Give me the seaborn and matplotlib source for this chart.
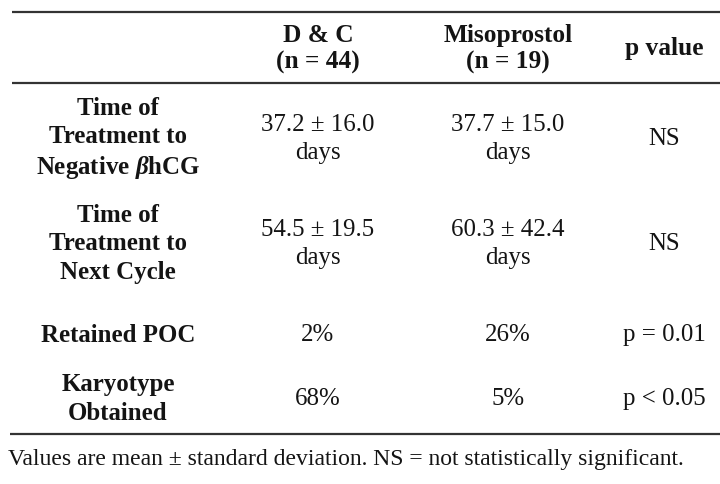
import matplotlib.pyplot as plt
import seaborn as sns

# Table content
col_heads = ["D & C\n(n = 44)", "Misoprostol\n(n = 19)", "p value"]
row_labels = [
    "Time of\nTreatment to\n$\\mathbf{Negative\\ }\\mathit{\\beta}\\mathbf{hCG}$",
    "Time of\nTreatment to\nNext Cycle",
    "Retained POC",
    "Karyotype\nObtained",
]
dc_vals = ["37.2 ± 16.0\ndays", "54.5 ± 19.5\ndays", "2%", "68%"]
miso_vals = ["37.7 ± 15.0\ndays", "60.3 ± 42.4\ndays", "26%", "5%"]
p_vals = ["NS", "NS", "p = 0.01", "p < 0.05"]
footnote = "Values are mean ± standard deviation. NS = not statistically significant."

sns.set_theme(style="white")
plt.rcParams['font.family'] = ['Liberation Serif', 'DejaVu Serif']
plt.rcParams['mathtext.fontset'] = 'custom'
plt.rcParams['mathtext.rm'] = 'Liberation Serif'
plt.rcParams['mathtext.bf'] = 'Liberation Serif:bold'
plt.rcParams['mathtext.it'] = 'Liberation Serif:italic:bold'

fig = plt.figure(figsize=(7.2, 4.84), dpi=100)
ax = fig.add_axes([0, 0, 1, 1])
ax.set_xlim(0, 720)
ax.set_ylim(484, 0)
ax.axis('off')

col_x = [118, 318, 508, 664]
head_y = 49
row_y = [139, 244, 335, 399]
fs = 17.9
txt = '#141414'

for x, h in zip(col_x[1:], col_heads):
    ax.text(x, head_y, h, ha='center', va='center', fontsize=fs + 0.4,
            fontweight='bold', color=txt, linespacing=1.25)

for i, y in enumerate(row_y):
    ax.text(col_x[0], y, row_labels[i], ha='center', va='center', fontsize=fs,
            fontweight='bold', color=txt, linespacing=1.28)
    ax.text(col_x[1], y, dc_vals[i], ha='center', va='center', fontsize=fs,
            color=txt, linespacing=1.3)
    ax.text(col_x[2], y, miso_vals[i], ha='center', va='center', fontsize=fs,
            color=txt, linespacing=1.3)
    ax.text(col_x[3], y, p_vals[i], ha='center', va='center', fontsize=fs,
            color=txt, linespacing=1.3)

# rules
for y, x0 in [(12, 12), (83, 12), (434, 10)]:
    ax.plot([x0, 720], [y, y], color='#333333', lw=1.6, solid_capstyle='butt')

ax.text(8, 459, footnote, ha='left', va='center', fontsize=17.0, color=txt)

fig.savefig('out.png', dpi=100, facecolor='white')
